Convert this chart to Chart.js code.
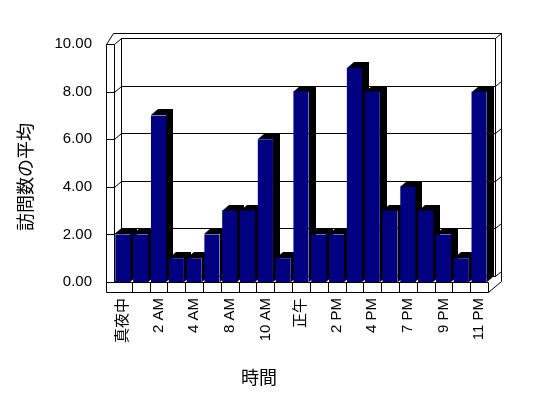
<!DOCTYPE html>
<html>
<head>
<meta charset="utf-8">
<script src="https://cdn.jsdelivr.net/npm/chart.js@4"></script>
<style>
  body { margin: 0; background: #fff; }
</style>
</head>
<body>
<canvas id="visitChart" width="548" height="398"></canvas>
<script>
// 時間帯（21 区分、ラベルは1つおきに表示）
const hours = ['真夜中', '1 AM', '2 AM', '3 AM', '4 AM', '6 AM', '8 AM', '9 AM', '10 AM', '11 AM', '正午',
               '1 PM', '2 PM', '3 PM', '4 PM', '5 PM', '7 PM', '8 PM', '9 PM', '10 PM', '11 PM'];
const avgVisits = [2, 2, 7, 1, 1, 2, 3, 3, 6, 1, 8, 2, 2, 9, 8, 3, 4, 3, 2, 1, 8];
const yTicks = [0, 2, 4, 6, 8, 10];
const yTitle = '訪問数の平均';
const xTitle = '時間';

// 奥行き
const DX = 7, DY = 6;      // 壁・棒の奥行き
const BX = 6, BY = 5;      // 奥の壁の厚み
const W = 8, F = 10;       // 左の壁・床の厚み

const px = v => Math.round(v) + 0.5;
function poly(ctx, pts) {
    ctx.beginPath();
    pts.forEach(([a, b], i) => i ? ctx.lineTo(px(a), px(b)) : ctx.moveTo(px(a), px(b)));
    ctx.stroke();
}

const depthPlugin = {
    id: 'depth3d',
    beforeDatasetsDraw(chart) {
        const { ctx, chartArea: a, scales: { x, y } } = chart;
        const L = a.left, R = a.right, T = a.top, B = a.bottom;
        ctx.save();
        ctx.strokeStyle = '#000';
        ctx.lineWidth = 1;

        // 外枠
        poly(ctx, [[L - W, B + F], [L - W, T], [L - W + DX, T - DY - BY], [R + DX + BX, T - DY - BY],
                   [R + DX + BX, B + F - DY - BY], [R, B + F], [L - W, B + F]]);
        // 左の壁
        poly(ctx, [[L, T], [L, B]]);
        poly(ctx, [[L + DX, T - DY], [L + DX, B - DY]]);
        // 右側
        poly(ctx, [[R + DX, T - DY], [R + DX, B - DY]]);
        poly(ctx, [[R, B], [R, B + F]]);
        // 目盛線（左の壁 → 奥の壁 → 右の厚み）
        yTicks.forEach(v => {
            const yy = y.getPixelForValue(v);
            poly(ctx, [[L - W, yy], [L, yy], [L + DX, yy - DY], [R + DX, yy - DY], [R + DX + BX, yy - DY - BY]]);
        });
        // 床の前面
        poly(ctx, [[L, B], [R, B]]);
        const step = (R - L) / hours.length;
        for (let k = 1; k < hours.length; k++) {
            poly(ctx, [[L + k * step, B], [L + k * step, B + F]]);
        }

        // 棒の上面と側面（黒）
        ctx.fillStyle = '#000';
        chart.getDatasetMeta(0).data.forEach(bar => {
            const l = bar.x - bar.width / 2, r = bar.x + bar.width / 2;
            const top = bar.y, base = bar.base;
            ctx.beginPath();
            ctx.moveTo(Math.round(l), Math.round(top));
            ctx.lineTo(Math.round(l + DX), Math.round(top - DY));
            ctx.lineTo(Math.round(r + DX), Math.round(top - DY));
            ctx.lineTo(Math.round(r + DX), Math.round(base - DY));
            ctx.lineTo(Math.round(r), Math.round(base));
            ctx.lineTo(Math.round(r), Math.round(top));
            ctx.closePath();
            ctx.fill();
        });
        ctx.restore();
    },
    afterDraw(chart) {
        const { ctx } = chart;
        ctx.save();
        ctx.fillStyle = '#000';
        ctx.font = '18px "Noto Sans CJK JP"';
        ctx.textAlign = 'center';
        ctx.textBaseline = 'middle';
        ctx.fillText(xTitle, 259, 377);
        ctx.translate(25, 177);
        ctx.rotate(-Math.PI / 2);
        ctx.fillText(yTitle, 0, 0);
        ctx.restore();
    }
};

const ctx = document.getElementById('visitChart').getContext('2d');
const visitChart = new Chart(ctx, {
    type: 'bar',
    data: {
        labels: hours,
        datasets: [{
            label: yTitle,
            data: avgVisits,
            backgroundColor: '#000080',
            borderWidth: 0,
            barPercentage: 0.85,
            categoryPercentage: 1.0
        }]
    },
    options: {
        responsive: false,
        animation: false,
        devicePixelRatio: 1,
        layout: { padding: { top: 44, right: 60, left: 0, bottom: 0 } },
        plugins: {
            legend: { display: false },
            tooltip: { enabled: false }
        },
        scales: {
            x: {
                grid: { display: false, drawTicks: false },
                border: { display: false },
                ticks: {
                    autoSkip: false,
                    minRotation: 90,
                    maxRotation: 90,
                    padding: 16,
                    color: '#000',
                    font: { family: '"Liberation Sans", "Noto Sans CJK JP"', size: 15 },
                    callback: (v, i) => i % 2 === 0 ? hours[i] : ''
                },
                afterFit: s => { s.height = 116; }
            },
            y: {
                min: 0,
                max: 10,
                grid: { display: false, drawTicks: false },
                border: { display: false },
                ticks: {
                    stepSize: 2,
                    padding: 22,
                    color: '#000',
                    font: { family: '"Liberation Sans"', size: 15 },
                    callback: v => v.toFixed(2)
                },
                afterFit: s => { s.width = 114; }
            }
        }
    },
    plugins: [depthPlugin]
});
</script>
</body>
</html>
